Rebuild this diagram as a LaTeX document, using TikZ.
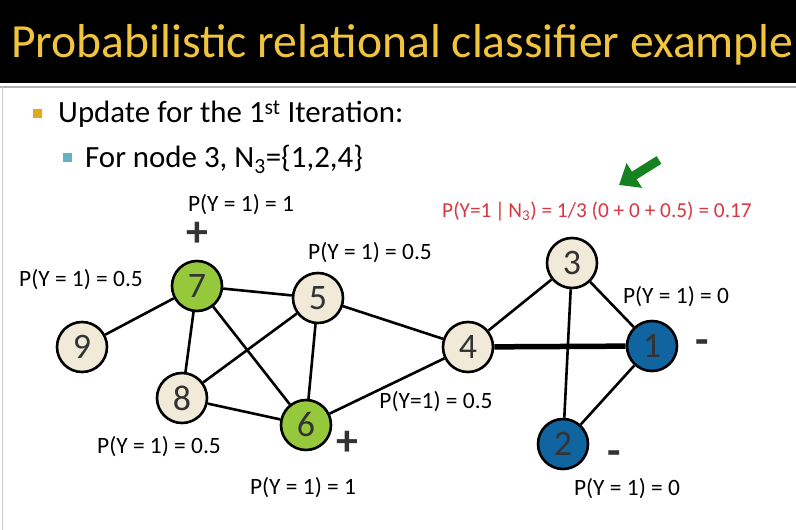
\documentclass[tikz,border=0pt]{standalone}
\usepackage{fontspec}
\setmainfont{Carlito}
\usepackage{tikz}
\usetikzlibrary{arrows.meta, positioning}
\definecolor{titleYellow}{RGB}{240,196,60}
\definecolor{posGreen}{RGB}{150,200,60}
\definecolor{negBlue}{RGB}{16,100,160}
\definecolor{plainBeige}{RGB}{242,234,216}
\definecolor{bulletOrange}{RGB}{226,168,30}
\definecolor{bulletBlue}{RGB}{100,176,196}
\definecolor{calcRed}{RGB}{215,55,65}
\definecolor{arrowGreen}{RGB}{20,130,30}
\definecolor{digitGray}{gray}{0.2}

\tikzset{
  vertex/.style={circle, draw=black, line width=2.6bp, minimum size=50bp, inner sep=0pt,
    fill=plainBeige, text=digitGray, font=\fontsize{36}{40}\selectfont},
  posvertex/.style={vertex, fill=posGreen},
  negvertex/.style={vertex, fill=negBlue},
  problabel/.style={font=\fontsize{23.5}{28}\selectfont, inner sep=0pt},
  signlabel/.style={font=\fontsize{44}{48}\selectfont\bfseries, text=digitGray, inner sep=0pt},
  edge/.style={line width=2.6bp}
}

\begin{document}
\begin{tikzpicture}[x=1bp, y=-1bp, >=stealth]
    \useasboundingbox (0,0) rectangle (796,530);
    % Title bar
    \fill[black] (0,0) rectangle (796,83);
    \draw[gray!60, line width=1.5pt] (0,87) -- (796,87);
    \draw[gray!40, line width=1pt] (2,87) -- (2,530);
    \node[anchor=base west, text=titleYellow, font=\fontsize{47.8}{54}\selectfont, inner sep=0pt]
        (title) at (11,58) {Probabilistic relational classifier example};

    % Bullets
    \fill[bulletOrange] (33,109) rectangle (42,118);
    \node[anchor=base west, font=\fontsize{31}{36}\selectfont, inner sep=0pt]
        (update) at (58,123) {Update for the 1\textsuperscript{st} Iteration:};
    \fill[bulletBlue] (63,153) rectangle (72,162);
    \node[anchor=base west, font=\fontsize{31}{36}\selectfont, inner sep=0pt]
        (fornode) at (85,168) {For node 3, N\textsubscript{3}=\{1,2,4\}};

    % Pointer to the update
    \coordinate (tail) at (659,160);
    \coordinate (tip) at (619,185);
    \draw[arrowGreen, line width=9bp, -{Triangle[width=28bp, length=18bp]}] (tail) -- (tip);
    \node[problabel, text=calcRed, font=\fontsize{21.4}{26}\selectfont] (calc) at (597,211)
        {P(Y=1\,|\,N\textsubscript{3}) = 1/3 (0 + 0 + 0.5) = 0.17};

    % Nodes
    \node[posvertex] (n7) at (197,286) {7};
    \node[vertex] (n5) at (318,298) {5};
    \node[vertex] (n9) at (82,347) {9};
    \node[vertex] (n8) at (182,398) {8};
    \node[posvertex] (n6) at (306,425) {6};
    \node[vertex] (n4) at (468,347) {4};
    \node[vertex] (n3) at (572,263) {3};
    \node[negvertex] (n1) at (652,346) {1};
    \node[negvertex] (n2) at (563,444) {2};

    % Edges
    \draw[edge] (n7) -- (n9);
    \draw[edge] (n7) -- (n5);
    \draw[edge] (n7) -- (n8);
    \draw[edge] (n7) -- (n6);
    \draw[edge] (n5) -- (n8);
    \draw[edge] (n5) -- (n6);
    \draw[edge] (n5) -- (n4);
    \draw[edge] (n8) -- (n6);
    \draw[edge] (n6) -- (n4);
    \draw[edge] (n4) -- (n3);
    \draw[line width=5.5bp] (n4) -- (n1);
    \draw[edge] (n3) -- (n1);
    \draw[edge] (n3) -- (n2);
    \draw[edge] (n1) -- (n2);

    % Probabilities
    \node[problabel] (p7) at (241,205) {P(Y = 1) = 1};
    \node[problabel] (p9) at (81,280) {P(Y = 1) = 0.5};
    \node[problabel] (p5) at (370,253) {P(Y = 1) = 0.5};
    \node[problabel] (p8) at (159,447) {P(Y = 1) = 0.5};
    \node[problabel] (p6) at (303,488) {P(Y = 1) = 1};
    \node[problabel] (p4) at (436,402) {P(Y=1) = 0.5};
    \node[problabel] (p1) at (676,297) {P(Y = 1) = 0};
    \node[problabel] (p2) at (627,489) {P(Y = 1) = 0};

    % Known labels
    \node[signlabel] (s7) at (197,234) {+};
    \node[signlabel] (s6) at (347,443) {+};
    \node[signlabel] (s1) at (702,347) {-};
    \node[signlabel] (s2) at (614,458) {-};
\end{tikzpicture}
\end{document}
